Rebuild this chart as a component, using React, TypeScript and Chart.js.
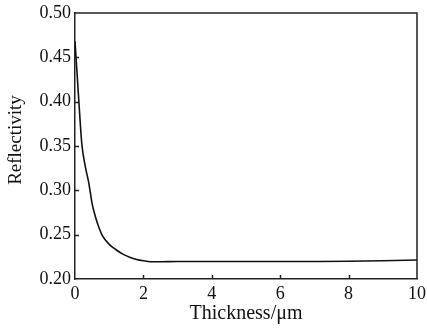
import React, { useEffect, useRef } from "react";
import { Chart, registerables } from "chart.js";

Chart.register(...registerables);

const thickness = [0, 0.05, 0.1, 0.15, 0.2, 0.3, 0.4, 0.45, 0.5, 0.6, 0.7, 0.8, 1.0, 1.2, 1.4, 1.6, 1.8, 2.0, 2.2, 2.5, 3, 4, 5, 6, 7, 8, 9, 10];
const reflectivity = [0.468, 0.438, 0.408, 0.378, 0.352, 0.327, 0.309, 0.297, 0.285, 0.27, 0.258, 0.249, 0.239, 0.233, 0.228, 0.2245, 0.222, 0.2205, 0.2195, 0.2195, 0.2197, 0.2197, 0.2197, 0.2197, 0.2198, 0.2200, 0.2205, 0.2215];

const xTicks = [0, 2, 4, 6, 8, 10];
const yTicks = [0.2, 0.25, 0.3, 0.35, 0.4, 0.45, 0.5];

const xTitle = "Thickness/\u03bcm";
const yTitle = "Reflectivity";

const FONT = "'Liberation Serif', 'Times New Roman', serif";

const boxPlugin = {
  id: "boxTicks",
  afterDraw(chart: any) {
    const { ctx, chartArea } = chart;
    const xs = chart.scales.x;
    const ys = chart.scales.y;
    ctx.save();
    ctx.strokeStyle = "#222";
    ctx.lineWidth = 1.5;
    ctx.beginPath();
    ctx.moveTo(chartArea.left, chartArea.top);
    ctx.lineTo(chartArea.right, chartArea.top);
    ctx.lineTo(chartArea.right, chartArea.bottom);
    ctx.stroke();
    ctx.beginPath();
    for (const v of xTicks.slice(1, -1)) {
      const px = Math.round(xs.getPixelForValue(v)) + 0.5;
      ctx.moveTo(px, chartArea.bottom);
      ctx.lineTo(px, chartArea.bottom - 4);
    }
    for (const v of yTicks.slice(1, -1)) {
      const py = Math.round(ys.getPixelForValue(v)) + 0.5;
      ctx.moveTo(chartArea.left, py);
      ctx.lineTo(chartArea.left + 4, py);
    }
    ctx.stroke();
    // y axis title
    ctx.fillStyle = "#111";
    ctx.font = `19px ${FONT}`;
    ctx.textAlign = "center";
    ctx.textBaseline = "middle";
    ctx.translate(16, (chartArea.top + chartArea.bottom) / 2 - 6);
    ctx.rotate(-Math.PI / 2);
    ctx.fillText(yTitle, 0, 0);
    ctx.restore();
  },
};

export default function App() {
  const ref = useRef<HTMLCanvasElement>(null);
  useEffect(() => {
    const data = thickness.map((t, i) => ({ x: t, y: reflectivity[i] }));
    const chart = new Chart(ref.current as HTMLCanvasElement, {
      type: "line",
      data: {
        datasets: [
          {
            data,
            borderColor: "#111",
            borderWidth: 1.6,
            pointRadius: 0,
            cubicInterpolationMode: "monotone",
            fill: false,
          },
        ],
      },
      options: {
        animation: false,
        responsive: false,
        devicePixelRatio: 1,
        layout: { padding: { top: 13, right: 10, left: 0, bottom: 0 } },
        plugins: { legend: { display: false }, tooltip: { enabled: false } },
        scales: {
          x: {
            type: "linear",
            min: 0,
            max: 10,
            afterBuildTicks: (s: any) => {
              s.ticks = xTicks.map((v) => ({ value: v }));
            },
            afterFit: (s: any) => {
              s.height = 50;
              s.paddingLeft = 0;
              s.paddingRight = 0;
            },
            grid: { display: false, drawTicks: false },
            border: { display: true, color: "#222", width: 1.5 },
            ticks: {
              color: "#111",
              font: { family: FONT, size: 18 },
              padding: 4,
              maxRotation: 0,
              callback: (v: any) => String(v),
            },
            title: {
              display: true,
              text: xTitle,
              color: "#111",
              font: { family: FONT, size: 20 },
              padding: { top: 0, bottom: 3 },
            },
          },
          y: {
            type: "linear",
            min: 0.2,
            max: 0.5,
            afterBuildTicks: (s: any) => {
              s.ticks = yTicks.map((v) => ({ value: v }));
            },
            afterFit: (s: any) => {
              s.width = 75;
              s.paddingTop = 0;
              s.paddingBottom = 0;
            },
            grid: { display: false, drawTicks: false },
            border: { display: true, color: "#222", width: 1.5 },
            ticks: {
              color: "#111",
              font: { family: FONT, size: 18 },
              padding: 4,
              callback: (v: any) => Number(v).toFixed(2),
            },
            title: { display: false },
          },
        },
      },
      plugins: [boxPlugin],
    });
    return () => chart.destroy();
  }, []);
  return (
    <div style={{ position: "absolute", left: 0, top: 0, width: 427, height: 329, background: "#fff" }}>
      <canvas ref={ref} width={427} height={329} style={{ width: 427, height: 329, display: "block" }} />
    </div>
  );
}
